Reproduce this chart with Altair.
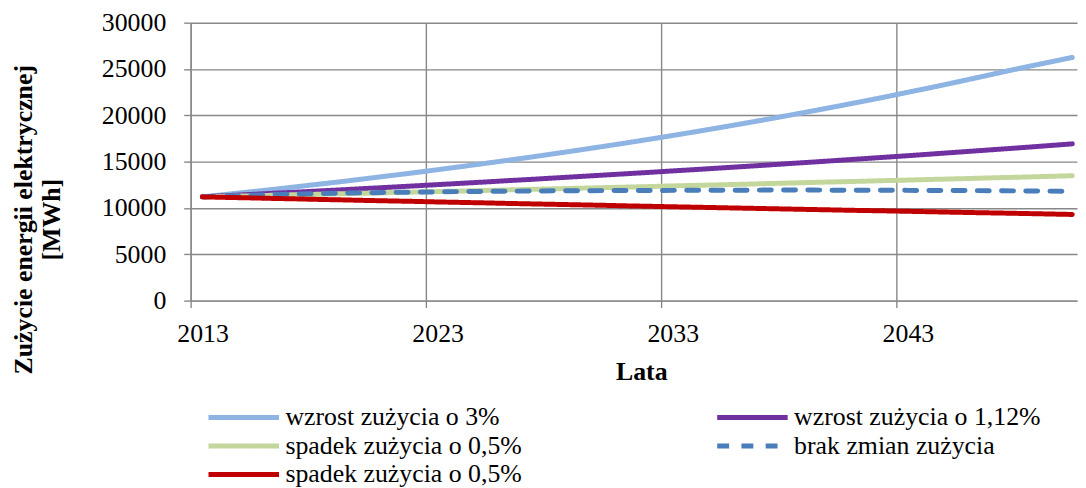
import altair as alt
import pandas as pd

years = list(range(2013, 2051))

wzrost_3 = [11200, 11460, 11730, 12000, 12290, 12580, 12870, 13180, 13490, 13800,
            14130, 14460, 14800, 15150, 15500, 15870, 16240, 16620, 17010, 17410,
            17820, 18240, 18670, 19110, 19560, 20020, 20490, 20970, 21460, 21960,
            22480, 23000, 23540, 24090, 24650, 25200, 25720, 26250]
wzrost_112 = [11200, 11330, 11450, 11580, 11710, 11840, 11970, 12110, 12240, 12380,
              12520, 12660, 12800, 12950, 13090, 13240, 13390, 13540, 13690, 13840,
              14000, 14150, 14310, 14470, 14630, 14800, 14960, 15130, 15300, 15470,
              15640, 15820, 16000, 16180, 16360, 16540, 16730, 16920]
spadek_green = [11200, 11260, 11310, 11370, 11430, 11480, 11540, 11600, 11660, 11710,
                11770, 11830, 11890, 11950, 12010, 12070, 12130, 12190, 12250, 12310,
                12380, 12440, 12500, 12560, 12630, 12690, 12760, 12820, 12880, 12950,
                13010, 13080, 13140, 13210, 13280, 13340, 13410, 13480]
brak_zmian = [11200, 11290, 11370, 11440, 11500, 11550, 11600, 11640, 11680, 11710,
              11740, 11770, 11790, 11810, 11830, 11850, 11860, 11870, 11880, 11890,
              11900, 11910, 11920, 11920, 11930, 11930, 11930, 11920, 11920, 11910,
              11900, 11890, 11880, 11870, 11850, 11840, 11820, 11800]
spadek_red = [11200, 11140, 11090, 11030, 10980, 10920, 10870, 10810, 10760, 10710,
              10650, 10600, 10550, 10490, 10440, 10390, 10340, 10290, 10230, 10180,
              10130, 10080, 10030, 9980, 9930, 9880, 9830, 9780, 9730, 9690,
              9640, 9590, 9540, 9490, 9450, 9400, 9350, 9300]

keys = ["a", "b", "c", "d", "e"]
labels = ["wzrost zużycia o 3%", "wzrost zużycia o 1,12%", "spadek zużycia o 0,5%",
          "brak zmian zużycia", "spadek zużycia o 0,5%"]
colors = ["#8EB4E3", "#7030A0", "#C3D69B", "#4A7EBB", "#C00000"]
dashes = [[1, 0], [1, 0], [1, 0], [12, 12.4], [1, 0]]
series_values = [wzrost_3, wzrost_112, spadek_green, brak_zmian, spadek_red]

x_tick_values = [2012.5, 2022.5, 2032.5, 2042.5]
y_tick_values = [0, 5000, 10000, 15000, 20000, 25000, 30000]

rows = []
for k, vals in zip(keys, series_values):
    for yr, v in zip(years, vals):
        rows.append({"year": yr, "value": v, "series": k})
df = pd.DataFrame(rows)

label_expr = ""
for k, lab in zip(keys, labels):
    label_expr += f"datum.value == '{k}' ? '{lab}' : "
label_expr += "''"

FONT = "Liberation Serif"

legend = alt.Legend(
    title=None, orient="none", legendX=15.5, legendY=384.7, columns=2,
    direction="horizontal", clipHeight=26,
    columnPadding=193.5, rowPadding=2.7, padding=0,
    symbolType="stroke", symbolSize=5041, symbolStrokeWidth=5,
    labelFont=FONT, labelFontSize=26, labelColor="#000000", labelOffset=4,
    labelLimit=0, labelExpr=label_expr,
)

chart = alt.Chart(df).mark_line(strokeWidth=5, strokeCap="round", strokeJoin="round").encode(
    x=alt.X("year:Q",
            scale=alt.Scale(domain=[2012.5, 2050.2], nice=False, zero=False),
            axis=alt.Axis(values=x_tick_values, labelExpr="format(datum.value + 0.5, 'd')",
                          labelOffset=12, labelOverlap=False, labelFlush=False,
                          labelBaseline="alphabetic", labelPadding=34, tickSize=7,
                          title="Lata", titleX=454, titleY=79, titleBaseline="alphabetic",
                          titleFontWeight="bold")),
    y=alt.Y("value:Q",
            scale=alt.Scale(domain=[0, 30000], nice=False),
            axis=alt.Axis(values=y_tick_values, format="d", tickSize=7, labelPadding=18,
                          title=["Zużycie energii elektrycznej", "[MWh]"],
                          titleAngle=270, titleAlign="center", titleBaseline="alphabetic",
                          titleX=-160, titleY=198, titleLineHeight=28,
                          titleFontWeight="bold")),
    color=alt.Color("series:N", scale=alt.Scale(domain=keys, range=colors), legend=legend),
    strokeDash=alt.StrokeDash("series:N", scale=alt.Scale(domain=keys, range=dashes), legend=legend),
).properties(
    width=893, height=280,
    background="white",
    autosize=alt.AutoSizeParams(type="none"),
    padding={"left": 184, "top": 13, "right": 1, "bottom": 187},
).configure_view(stroke=None).configure_axis(
    gridColor="#888888", gridWidth=1.4, domainColor="#888888", domainWidth=1.4,
    tickColor="#888888", tickWidth=1.4,
    labelFont=FONT, labelFontSize=26, labelColor="#000000",
    titleFont=FONT, titleFontSize=26, titleColor="#000000",
).configure_legend(
    labelFont=FONT, labelFontSize=26, labelColor="#000000", labelLimit=0,
)

chart.save("out.html", embed_options={"renderer": "svg", "actions": False})
